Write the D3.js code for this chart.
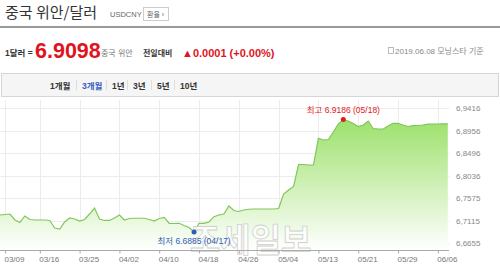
<!DOCTYPE html>
<html>
<head>
<meta charset="utf-8">
<script src="https://cdn.jsdelivr.net/npm/d3@7"></script>
<style>
  body { margin: 0; background: #fff; }
  text { font-family: "Liberation Sans", "Noto Sans CJK KR", sans-serif; }
</style>
</head>
<body>
<div id="chart"></div>
<script>
// daily USD/CNY close, 03/08 .. 06/08
var rates = [
  6.7234, 6.7244, 6.7254, 6.7132, 6.7081, 6.7214, 6.7142, 6.7132, 6.7132, 6.7132,
  6.7122, 6.6968, 6.6948, 6.7091, 6.7173, 6.7152, 6.7111, 6.7142, 6.7254, 6.7377,
  6.7152, 6.7122, 6.7122, 6.7173, 6.7234, 6.7132, 6.7162, 6.7167, 6.7167, 6.7167,
  6.7142, 6.7111, 6.7162, 6.7183, 6.7064, 6.7060, 6.7064, 6.7019, 6.6978, 6.6885,
  6.7064, 6.7064, 6.7091, 6.7199, 6.7234, 6.7254, 6.7418, 6.7326, 6.7306, 6.7336,
  6.7351, 6.7357, 6.7357, 6.7357, 6.7357, 6.7357, 6.7367, 6.7663, 6.7745, 6.7817,
  6.8267, 6.8267, 6.8256, 6.8256, 6.8803, 6.8768, 6.8778, 6.8931, 6.9095, 6.9186,
  6.9156, 6.9105, 6.9044, 6.9074, 6.9156, 6.9003, 6.8993, 6.8993, 6.9054, 6.9109,
  6.9109, 6.9074, 6.9044, 6.9060, 6.9064, 6.9074, 6.9091, 6.9095, 6.9095, 6.9099,
  6.9098
];
var yTicks = [6.6655, 6.7115, 6.7575, 6.8036, 6.8496, 6.8956, 6.9416];
var tickIdx = [1, 8, 16, 24, 32, 40, 48, 56, 64, 72, 80, 88];
var tickLabels = ["03/09", "03/16", "03/25", "04/02", "04/10", "04/18",
                  "04/26", "05/04", "05/13", "05/21", "05/29", "06/06"];
var periods = ["1개월", "3개월", "1년", "3년", "5년", "10년"];
var hiLabel = "최고 6.9186 (05/18)";
var loLabel = "최저 6.6885 (04/17)";

var svgWidth = 500, svgHeight = 270;
var svg = d3.select("#chart").append("svg")
  .attr("width", svgWidth)
  .attr("height", svgHeight);

// header
svg.append("text").attr("x", 5).attr("y", 18)
  .attr("font-size", "15px").attr("fill", "#333")
  .style("font-family", "'Noto Sans CJK KR'")
  .text("중국 위안/달러");
svg.append("text").attr("x", 110).attr("y", 17)
  .attr("font-size", "7.5px").attr("fill", "#666").text("USDCNY");
svg.append("rect").attr("x", 143.5).attr("y", 7.5).attr("width", 25).attr("height", 13)
  .attr("fill", "#fff").attr("stroke", "#ccc");
svg.append("text").attr("x", 147).attr("y", 17)
  .attr("font-size", "7px").attr("fill", "#666").text("환율 ›");
svg.append("line").attr("x1", 0).attr("x2", 500).attr("y1", 27).attr("y2", 27)
  .attr("stroke", "#777").attr("stroke-width", 1.5);

svg.append("text").attr("x", 5).attr("y", 56)
  .attr("font-size", "8.5px").attr("font-weight", "bold").attr("fill", "#333").text("1달러 =");
svg.append("text").attr("x", 35).attr("y", 58)
  .attr("font-size", "21.5px").attr("font-weight", "bold").attr("fill", "#e0141e")
  .text(d3.format(".4f")(rates[rates.length - 1]));
svg.append("text").attr("x", 101).attr("y", 56)
  .attr("font-size", "8px").attr("fill", "#777").text("중국 위안");
svg.append("text").attr("x", 143).attr("y", 56)
  .attr("font-size", "8px").attr("font-weight", "bold").attr("fill", "#333").text("전일대비");
svg.append("text").attr("x", 182).attr("y", 57)
  .attr("font-size", "11px").attr("font-weight", "bold").attr("fill", "#e0141e")
  .text("▲0.0001 (+0.00%)");
svg.append("rect").attr("x", 388.5).attr("y", 47.5).attr("width", 5).attr("height", 6)
  .attr("fill", "none").attr("stroke", "#aaa").attr("stroke-width", 0.8);
svg.append("text").attr("x", 395).attr("y", 54)
  .attr("font-size", "8px").attr("fill", "#888").text("2019.06.08  모닝스타 기준");

// period tabs
svg.append("rect").attr("x", 1.5).attr("y", 73.5).attr("width", 497).attr("height", 23)
  .attr("fill", "#f5f5f5").attr("stroke", "#d6d6d6");
var tabX = [50, 82, 112, 133, 157, 180];
svg.append("g").selectAll("text")
  .data(periods)
  .enter()
  .append("text")
  .attr("x", (d, i) => tabX[i])
  .attr("y", 88.5)
  .attr("font-size", "8.5px")
  .attr("font-weight", "bold")
  .attr("fill", (d, i) => i == 1 ? "#3a5bbf" : "#333")
  .text(d => d);
svg.append("g").selectAll("line")
  .data(tabX.slice(1))
  .enter()
  .append("line")
  .attr("x1", d => d - 5.5).attr("x2", d => d - 5.5)
  .attr("y1", 80).attr("y2", 90)
  .attr("stroke", "#ddd");

// chart
var x = d3.scaleLinear().domain([0, rates.length - 1]).range([0, 447.8]);
var y = d3.scaleLinear().domain([6.6518, 6.9416]).range([250, 108.3]);

var defs = svg.append("defs");
var grad = defs.append("linearGradient").attr("id", "fillGrad")
  .attr("gradientUnits", "userSpaceOnUse")
  .attr("x1", 0).attr("x2", 0).attr("y1", y(6.9186)).attr("y2", 250);
grad.append("stop").attr("offset", 0).attr("stop-color", "#9de16c");
grad.append("stop").attr("offset", 1).attr("stop-color", "#ffffff");

var plot = svg.append("g");

// grid
plot.append("g").selectAll("line")
  .data(yTicks)
  .enter()
  .append("line")
  .attr("x1", 0).attr("x2", 449)
  .attr("y1", d => Math.round(y(d)) + 0.5).attr("y2", d => Math.round(y(d)) + 0.5)
  .attr("stroke", "#ececec");
plot.append("g").selectAll("line")
  .data(tickIdx)
  .enter()
  .append("line")
  .attr("x1", d => Math.round(x(d)) + 0.5).attr("x2", d => Math.round(x(d)) + 0.5)
  .attr("y1", 100).attr("y2", 250)
  .attr("stroke", "#ececec");

var area = d3.area()
  .x((d, i) => x(i))
  .y0(250)
  .y1(d => y(d));
var line = d3.line()
  .x((d, i) => x(i))
  .y(d => y(d));

plot.append("path").datum(rates)
  .attr("d", area)
  .attr("fill", "url(#fillGrad)");
plot.append("path").datum(rates)
  .attr("d", line)
  .attr("fill", "none")
  .attr("stroke", "#80c65a")
  .attr("stroke-width", 1.2);

// watermark (drawn under the axis labels)
svg.append("text").attr("x", 190).attr("y", 252)
  .attr("font-size", "33px").attr("font-weight", "bold")
  .style("font-family", "'Noto Sans CJK KR'")
  .attr("fill", "#fff").attr("fill-opacity", 0.8)
  .attr("stroke", "#cfcfcf").attr("stroke-width", 0.8)
  .text("조세일보");

// x axis
var xAxis = d3.axisBottom(x)
  .tickValues(tickIdx)
  .tickFormat((d, i) => tickLabels[i])
  .tickSize(3)
  .tickSizeOuter(0);
var gx = svg.append("g")
  .attr("transform", "translate(0,250.5)")
  .call(xAxis);
gx.select(".domain").attr("stroke", "#aaa").attr("d", "M0,0H449");
gx.selectAll(".tick line").attr("stroke", "#aaa");
gx.selectAll(".tick text")
  .attr("text-anchor", "start")
  .attr("dx", "-1")
  .attr("y", 6)
  .attr("fill", "#777")
  .attr("font-size", "8px")
  .style("font-family", "'Liberation Sans'");

// y labels on the right
var yAxis = d3.axisRight(y)
  .tickValues(yTicks)
  .tickFormat(d => d3.format(".4f")(d).replace(".", ","))
  .tickSize(0);
var gy = svg.append("g")
  .attr("transform", "translate(456,0)")
  .call(yAxis);
gy.select(".domain").remove();
gy.selectAll(".tick text")
  .attr("x", 0)
  .attr("fill", "#888")
  .attr("font-size", "8px")
  .style("font-family", "'Liberation Sans'");

// high / low markers
var hiIdx = rates.indexOf(d3.max(rates));
var loIdx = rates.indexOf(d3.min(rates));
svg.append("circle").attr("cx", x(hiIdx)).attr("cy", y(rates[hiIdx])).attr("r", 2.5).attr("fill", "#e31b1b");
svg.append("text").attr("x", x(hiIdx)).attr("y", y(rates[hiIdx]) - 7)
  .attr("text-anchor", "middle").attr("font-size", "8.5px").attr("fill", "#e31b1b")
  .text(hiLabel);
svg.append("circle").attr("cx", x(loIdx)).attr("cy", y(rates[loIdx])).attr("r", 2.5).attr("fill", "#2f5fb3");
svg.append("text").attr("x", x(loIdx)).attr("y", y(rates[loIdx]) + 12)
  .attr("text-anchor", "middle").attr("font-size", "8.5px").attr("fill", "#2f5fb3")
  .text(loLabel);
</script>
</body>
</html>
